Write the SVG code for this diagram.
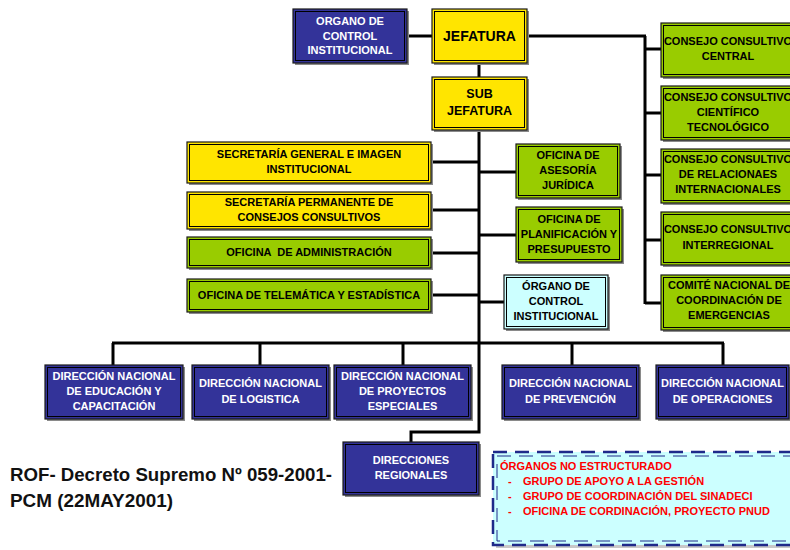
<svg xmlns="http://www.w3.org/2000/svg" width="790" height="550" viewBox="0 0 790 550">
  <style>
    .sh { fill: #8a8a8a; }
    .bg { stroke: #1a1a1a; stroke-width: 1.2; }
    .in { fill: none; stroke: #000; stroke-width: 1; }
    .blue .bg { fill: #333399; }
    .yellow .bg { fill: #FFE500; }
    .green .bg { fill: #99CC00; }
    .cyan .bg { fill: #CCFFFF; }
    text { font-family: "Liberation Sans", Arial, sans-serif; font-weight: bold; font-size: 11px; text-anchor: middle; }
    .blue text { fill: #ffffff; }
    .yellow text, .green text, .cyan text { fill: #000; }
    .conn line, .conn polyline { stroke: #000; stroke-width: 3; fill: none; }
    .note { font-weight: bold; text-anchor: start; fill: #111; font-size: 19px; }
    .legend text { fill: #ff0000; text-anchor: start; }
  </style>

  <!-- connectors -->
  <g class="conn">
    <line x1="407" y1="36" x2="432" y2="36"/>
    <line x1="527" y1="36" x2="646" y2="36"/>
    <line x1="645" y1="36" x2="645" y2="304"/>
    <line x1="645" y1="49" x2="661" y2="49"/>
    <line x1="645" y1="113" x2="661" y2="113"/>
    <line x1="645" y1="175" x2="661" y2="175"/>
    <line x1="645" y1="240" x2="661" y2="240"/>
    <line x1="645" y1="303" x2="661" y2="303"/>
    <line x1="479" y1="63" x2="479" y2="77"/>
    <polyline points="479,130 479,432 411,432 411,442"/>
    <line x1="431" y1="162" x2="479" y2="162"/>
    <line x1="431" y1="210" x2="479" y2="210"/>
    <line x1="431" y1="253" x2="479" y2="253"/>
    <line x1="431" y1="295" x2="479" y2="295"/>
    <line x1="479" y1="172" x2="516" y2="172"/>
    <line x1="479" y1="235" x2="516" y2="235"/>
    <line x1="479" y1="302" x2="504" y2="302"/>
    <line x1="112" y1="343" x2="724" y2="343"/>
    <line x1="113" y1="343" x2="113" y2="365"/>
    <line x1="260" y1="343" x2="260" y2="365"/>
    <line x1="403" y1="343" x2="403" y2="365"/>
    <line x1="572" y1="343" x2="572" y2="365"/>
    <line x1="723" y1="343" x2="723" y2="365"/>
  </g>

  <!-- top level -->
  <g id="organo-control" class="blue">
    <rect class="sh" x="295" y="11" width="114" height="54"/>
    <rect class="bg" x="293" y="9" width="114" height="54"/>
    <rect class="in" x="295.5" y="11.5" width="109" height="49"/>
    <text x="350" y="25">ORGANO DE</text>
    <text x="350" y="39.5">CONTROL</text>
    <text x="350" y="54">INSTITUCIONAL</text>
  </g>
  <g id="jefatura" class="yellow">
    <rect class="sh" x="434" y="11" width="95" height="54"/>
    <rect class="bg" x="432" y="9" width="95" height="54"/>
    <rect class="in" x="434.5" y="11.5" width="90" height="49"/>
    <text x="479.5" y="41" style="font-size:14px">JEFATURA</text>
  </g>
  <g id="sub-jefatura" class="yellow">
    <rect class="sh" x="434" y="79" width="95" height="53"/>
    <rect class="bg" x="432" y="77" width="95" height="53"/>
    <rect class="in" x="434.5" y="79.5" width="90" height="48"/>
    <text x="479.5" y="98" style="font-size:12.5px">SUB</text>
    <text x="479.5" y="115" style="font-size:12.5px">JEFATURA</text>
  </g>

  <!-- consultative bodies -->
  <g id="consejo-central" class="green">
    <rect class="sh" x="663" y="25" width="134" height="54"/>
    <rect class="bg" x="661" y="23" width="134" height="54"/>
    <rect class="in" x="663.5" y="25.5" width="129" height="49"/>
    <text x="728" y="45">CONSEJO CONSULTIVO</text>
    <text x="728" y="60">CENTRAL</text>
  </g>
  <g id="consejo-cientifico" class="green">
    <rect class="sh" x="663" y="88" width="134" height="54"/>
    <rect class="bg" x="661" y="86" width="134" height="54"/>
    <rect class="in" x="663.5" y="88.5" width="129" height="49"/>
    <text x="728" y="101">CONSEJO CONSULTIVO</text>
    <text x="728" y="116">CIENTÍFICO</text>
    <text x="728" y="131">TECNOLÓGICO</text>
  </g>
  <g id="consejo-relaciones" class="green">
    <rect class="sh" x="663" y="151" width="134" height="54"/>
    <rect class="bg" x="661" y="149" width="134" height="54"/>
    <rect class="in" x="663.5" y="151.5" width="129" height="49"/>
    <text x="728" y="163">CONSEJO CONSULTIVO</text>
    <text x="728" y="178">DE RELACIONAES</text>
    <text x="728" y="193">INTERNACIONALES</text>
  </g>
  <g id="consejo-interregional" class="green">
    <rect class="sh" x="663" y="214" width="134" height="53"/>
    <rect class="bg" x="661" y="212" width="134" height="53"/>
    <rect class="in" x="663.5" y="214.5" width="129" height="48"/>
    <text x="728" y="233">CONSEJO CONSULTIVO</text>
    <text x="728" y="249">INTERREGIONAL</text>
  </g>
  <g id="comite-emergencias" class="green">
    <rect class="sh" x="663" y="277" width="134" height="55"/>
    <rect class="bg" x="661" y="275" width="134" height="55"/>
    <rect class="in" x="663.5" y="277.5" width="129" height="50"/>
    <text x="729" y="289">COMITÉ NACIONAL DE</text>
    <text x="729" y="304">COORDINACIÓN DE</text>
    <text x="729" y="319">EMERGENCIAS</text>
  </g>

  <!-- support and advisory offices -->
  <g id="secretaria-general" class="yellow">
    <rect class="sh" x="189" y="144" width="244" height="41"/>
    <rect class="bg" x="187" y="142" width="244" height="41"/>
    <rect class="in" x="189.5" y="144.5" width="239" height="36"/>
    <text x="309" y="158">SECRETARÍA GENERAL E IMAGEN</text>
    <text x="309" y="173">INSTITUCIONAL</text>
  </g>
  <g id="secretaria-permanente" class="yellow">
    <rect class="sh" x="189" y="194" width="244" height="37"/>
    <rect class="bg" x="187" y="192" width="244" height="37"/>
    <rect class="in" x="189.5" y="194.5" width="239" height="32"/>
    <text x="309" y="206">SECRETARÍA PERMANENTE DE</text>
    <text x="309" y="221">CONSEJOS CONSULTIVOS</text>
  </g>
  <g id="oficina-administracion" class="green">
    <rect class="sh" x="189" y="239" width="244" height="31"/>
    <rect class="bg" x="187" y="237" width="244" height="31"/>
    <rect class="in" x="189.5" y="239.5" width="239" height="26"/>
    <text x="309" y="256" xml:space="preserve">OFICINA  DE ADMINISTRACIÓN</text>
  </g>
  <g id="oficina-telematica" class="green">
    <rect class="sh" x="189" y="281" width="244" height="33"/>
    <rect class="bg" x="187" y="279" width="244" height="33"/>
    <rect class="in" x="189.5" y="281.5" width="239" height="28"/>
    <text x="309" y="299">OFICINA DE TELEMÁTICA Y ESTADÍSTICA</text>
  </g>
  <g id="asesoria-juridica" class="green">
    <rect class="sh" x="518" y="146" width="104" height="54"/>
    <rect class="bg" x="516" y="144" width="104" height="54"/>
    <rect class="in" x="518.5" y="146.5" width="99" height="49"/>
    <text x="568" y="159">OFICINA DE</text>
    <text x="568" y="174">ASESORÍA</text>
    <text x="568" y="189">JURÍDICA</text>
  </g>
  <g id="planificacion" class="green">
    <rect class="sh" x="518" y="209" width="106" height="55"/>
    <rect class="bg" x="516" y="207" width="106" height="55"/>
    <rect class="in" x="518.5" y="209.5" width="101" height="50"/>
    <text x="569" y="223">OFICINA DE</text>
    <text x="569" y="238">PLANIFICACIÓN Y</text>
    <text x="569" y="253">PRESUPUESTO</text>
  </g>
  <g id="control-institucional" class="cyan">
    <rect class="sh" x="506" y="277" width="104" height="54"/>
    <rect class="bg" x="504" y="275" width="104" height="54"/>
    <rect class="in" x="506.5" y="277.5" width="99" height="49"/>
    <text x="556" y="290">ÓRGANO DE</text>
    <text x="556" y="305">CONTROL</text>
    <text x="556" y="320">INSTITUCIONAL</text>
  </g>

  <!-- national directorates -->
  <g id="dn-educacion" class="blue">
    <rect class="sh" x="47" y="367" width="138" height="54"/>
    <rect class="bg" x="45" y="365" width="138" height="54"/>
    <rect class="in" x="47.5" y="367.5" width="133" height="49"/>
    <text x="114" y="380">DIRECCIÓN NACIONAL</text>
    <text x="114" y="395">DE EDUCACIÓN Y</text>
    <text x="114" y="410">CAPACITACIÓN</text>
  </g>
  <g id="dn-logistica" class="blue">
    <rect class="sh" x="194" y="367" width="137" height="54"/>
    <rect class="bg" x="192" y="365" width="137" height="54"/>
    <rect class="in" x="194.5" y="367.5" width="132" height="49"/>
    <text x="260.5" y="387">DIRECCIÓN NACIONAL</text>
    <text x="260.5" y="403">DE LOGISTICA</text>
  </g>
  <g id="dn-proyectos" class="blue">
    <rect class="sh" x="336" y="367" width="137" height="54"/>
    <rect class="bg" x="334" y="365" width="137" height="54"/>
    <rect class="in" x="336.5" y="367.5" width="132" height="49"/>
    <text x="402.5" y="380">DIRECCIÓN NACIONAL</text>
    <text x="402.5" y="395">DE PROYECTOS</text>
    <text x="402.5" y="410">ESPECIALES</text>
  </g>
  <g id="dn-prevencion" class="blue">
    <rect class="sh" x="504" y="367" width="137" height="54"/>
    <rect class="bg" x="502" y="365" width="137" height="54"/>
    <rect class="in" x="504.5" y="367.5" width="132" height="49"/>
    <text x="570.5" y="387">DIRECCIÓN NACIONAL</text>
    <text x="570.5" y="403">DE PREVENCIÓN</text>
  </g>
  <g id="dn-operaciones" class="blue">
    <rect class="sh" x="658" y="367" width="133" height="54"/>
    <rect class="bg" x="656" y="365" width="133" height="54"/>
    <rect class="in" x="658.5" y="367.5" width="128" height="49"/>
    <text x="722.5" y="387">DIRECCIÓN NACIONAL</text>
    <text x="722.5" y="403">DE OPERACIONES</text>
  </g>
  <g id="direcciones-regionales" class="blue">
    <rect class="sh" x="345" y="444" width="136" height="53"/>
    <rect class="bg" x="343" y="442" width="136" height="53"/>
    <rect class="in" x="345.5" y="444.5" width="131" height="48"/>
    <text x="411" y="464">DIRECCIONES</text>
    <text x="411" y="479">REGIONALES</text>
  </g>

  <!-- legal reference -->
  <text class="note" x="10" y="481" textLength="322" lengthAdjust="spacingAndGlyphs">ROF- Decreto Supremo Nº 059-2001-</text>
  <text class="note" x="10" y="507" textLength="163" lengthAdjust="spacingAndGlyphs">PCM (22MAY2001)</text>

  <!-- non-structured bodies -->
  <g id="organos-no-estructurados" class="legend">
    <rect x="496" y="455" width="300" height="93" fill="#c8c8c8"/>
    <rect x="493" y="452" width="300" height="93" fill="#CCFFFF" stroke="#1f2a8a" stroke-width="2.5" stroke-dasharray="14 8"/>
    <rect x="497" y="456" width="300" height="85" fill="none" stroke="#1f2a8a" stroke-width="1" stroke-dasharray="14 8"/>
    <text x="500" y="470">ÓRGANOS NO ESTRUCTURADO</text>
    <text x="508" y="485">-</text>
    <text x="523" y="485">GRUPO DE APOYO A LA GESTIÓN</text>
    <text x="508" y="500">-</text>
    <text x="523" y="500">GRUPO DE COORDINACIÓN DEL SINADECI</text>
    <text x="508" y="515">-</text>
    <text x="523" y="515">OFICINA DE CORDINACIÓN, PROYECTO PNUD</text>
  </g>
</svg>
